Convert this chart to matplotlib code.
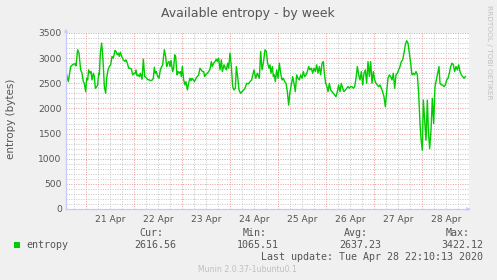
import numpy as np
import matplotlib
matplotlib.use("Agg")
import matplotlib.pyplot as plt

# hours since 2020-04-20 00:00, and available entropy (bytes)
hours = [14.33, 15.17, 16.33, 17.67, 18.5, 19, 19.83, 20.5, 21.33, 22, 22.67, 23.17, 23.83,
         24.33, 24.83, 25.33, 26, 26.5, 27, 27.67, 28.17, 28.67, 29.33, 29.83, 30.33, 30.67,
         31.17, 31.83, 32.5, 33.17, 33.83, 34.33, 35, 35.67, 36.33, 37, 37.67, 38.5, 39,
         39.67, 40.17, 40.67, 41.17, 41.83, 42.67, 43.5, 44, 44.67, 45.33, 46, 46.67, 47.33,
         48, 48.5, 49, 49.5, 50.17, 50.67, 51.17, 52, 52.67, 53.33, 54, 54.67, 55.5, 56.33,
         57.17, 57.67, 58.17, 58.67, 59.17, 59.83, 60.5, 61.17, 61.83, 62.33, 63.17, 63.83,
         64.33, 64.83, 65.5, 66, 66.5, 67.33, 67.83, 68.33, 68.83, 69.5, 70, 70.67, 71.17,
         71.67, 72.17, 72.83, 73.5, 74, 74.67, 75.5, 76, 76.5, 77, 77.67, 78.17, 79, 79.67,
         80.33, 81, 81.67, 82.17, 82.83, 83.33, 83.83, 84.67, 85.33, 86, 86.67, 87.17, 87.83,
         88.5, 89.17, 89.67, 90.33, 91, 91.67, 92.17, 93, 93.67, 94.17, 94.83, 95.33, 96,
         96.67, 97.33, 98, 98.67, 99.17, 99.83, 100.5, 101.33, 102, 102.83, 103.5, 104.33,
         105.17, 106, 106.83, 108, 108.83, 109.67, 110.67, 111.33, 112, 112.67, 113.5, 114.17,
         114.83, 115.5, 116, 116.5, 117.17, 117.67, 118.17, 118.67, 119.33, 120, 120.67,
         121.33, 122, 122.67, 123.33, 124, 124.67, 125.33, 126, 126.67, 127.33, 128, 128.67,
         129.33, 130, 130.67, 131.33, 132, 132.67, 133.33, 134, 134.67, 135.33, 136, 136.67,
         137.33, 138, 138.67, 139.33, 140, 140.67, 141.33, 142, 142.67, 143.17, 143.83, 144.5,
         145, 145.67, 146.33, 147, 147.67, 148.33, 149, 149.67, 150.33, 151, 151.67, 152.33,
         153, 153.67, 154.33, 155, 155.67, 156.33, 157, 157.67, 158.33, 159, 159.67, 160.33,
         161, 161.67, 162.33, 163, 163.67, 164.33, 165, 165.67, 166.33, 167, 167.67, 168.33,
         169, 169.67, 170.33, 171, 171.67, 172.33, 173, 173.67, 174.33, 175, 175.67, 176.33,
         177, 177.67, 178.33, 179, 179.67, 180.33, 181, 181.67, 182.33, 183, 183.67, 184.33,
         185, 185.67, 186.33, 187, 187.67, 188.33, 189, 189.67, 190.33, 191, 191.5, 192.17,
         192.67, 193.33, 194, 194.67, 195.17, 195.83, 196.5, 197.17, 197.83, 198.5, 199.17,
         199.83, 200.5, 201, 201.67, 202.33, 203, 203.67, 204.33, 205, 205.67, 206.33, 207,
         207.67, 208.33, 209, 209.67, 210.33, 211, 211.67, 212.33, 213, 213.67]
entropy = [2667, 2533, 2833, 2880, 2887, 2847, 3167, 3100, 2767, 2700, 2533, 2500, 2333,
           2600, 2567, 2767, 2700, 2733, 2567, 2700, 2633, 2400, 2433, 2467, 2700, 2667,
           3100, 3300, 2967, 2433, 2300, 2600, 2767, 2833, 2867, 3033, 3000, 3153, 3133,
           3067, 3100, 3033, 3120, 3033, 2967, 2933, 2967, 2900, 2800, 2800, 2787, 2667,
           2700, 2687, 2767, 2647, 2667, 2633, 2700, 2580, 2980, 2633, 2620, 2580, 2567, 2553,
           2567, 2600, 2820, 2700, 2733, 2633, 2600, 2767, 2833, 2867, 3167, 3033,
           2833, 2900, 2933, 2833, 2953, 2733, 2800, 3067, 3033, 2667, 2733, 2700, 2733,
           2633, 2833, 2567, 2467, 2533, 2367, 2533, 2600, 2553, 2600, 2567, 2533, 2600, 2633,
           2667, 2800, 2767, 2733, 2733, 2633, 2667, 2700, 2733, 2780, 2933, 2833, 2900,
           2933, 2980, 2933, 3000, 2767, 2967, 2733, 2867, 2800, 2767, 2900, 2800, 3100,
           2833, 2433, 2367, 2400, 2833, 2633, 2367, 2300, 2333, 2367, 2400, 2500,
           2487, 2533, 2567, 2767, 2600, 2700, 2600, 3133, 2767, 2900, 3167, 3133,
           2900, 2800, 2867, 2700, 2833, 2633, 2667, 2533, 2767, 2600, 2900,
           2700, 2567, 2600, 2533, 2500, 2333, 2067, 2333, 2467, 2633, 2500, 2333,
           2667, 2600, 2567, 2667, 2600, 2733, 2633, 2667, 2733, 2833, 2767, 2800,
           2700, 2800, 2733, 2867, 2700, 2833, 2667, 2900, 2933, 2700, 2500, 2433,
           2333, 2500, 2367, 2333, 2300, 2267, 2233, 2333, 2467, 2333, 2500, 2400,
           2333, 2367, 2400, 2433, 2400, 2433, 2433, 2400, 2433, 2600, 2833, 2667,
           2567, 2733, 2467, 2700, 2767, 2500, 2933, 2633, 2933, 2500, 2733, 2567,
           2500, 2467, 2433, 2467, 2400, 2333, 2233, 2033, 2333, 2600, 2667, 2633,
           2567, 2700, 2400, 2667, 2700, 2767, 2833, 2933, 2967, 3100, 3267, 3347,
           3300, 3100, 2900, 2667, 2700, 2667, 2733, 2667, 2300, 1700, 1400, 1167,
           2167, 1767, 1367, 2167, 1567, 1200, 1567, 2200, 1700, 2433, 2567,
           2700, 2833, 2500, 2467, 2467, 2433, 2467, 2567, 2600, 2700, 2833, 2900,
           2867, 2733, 2833, 2767, 2867, 2733, 2667, 2633, 2600, 2633]

day_labels = ["21 Apr", "22 Apr", "23 Apr", "24 Apr", "25 Apr", "26 Apr", "27 Apr", "28 Apr"]
stat_names = ["Cur:", "Min:", "Avg:", "Max:"]
stat_values = ["2616.56", "1065.51", "2637.23", "3422.12"]

W, H = 497, 280
fig = plt.figure(figsize=(W / 100, H / 100), dpi=100, facecolor="#f0f0f0")
ax = fig.add_axes([66 / W, (H - 209) / H, (469 - 66) / W, (209 - 33) / H])
ax.set_facecolor("white")

txt = "#555555"
ax.set_xlim(14, 215.5)
ax.set_ylim(0, 3500)

# grid: minor gray dotted, major red dotted
dots = (0, (1, 1.5))
for y in np.arange(100, 3501, 100):
    if y % 500 == 0:
        continue
    ax.axhline(y, color="#c4c4c4", lw=0.7, ls=dots, zorder=1)
for x in np.arange(18, 215.5, 6):
    if x % 24 == 0:
        continue
    ax.axvline(x, color="#c4c4c4", lw=0.7, ls=dots, zorder=1)
for y in np.arange(500, 3501, 500):
    ax.axhline(y, color="#eb9a9a", lw=0.7, ls=dots, zorder=2, clip_on=False)
for x in np.arange(24, 215, 24):
    ax.axvline(x, color="#eb9a9a", lw=0.7, ls=dots, zorder=2)

ax.plot(hours, entropy, color="#00cc00", lw=1.0, zorder=3)

for s in ax.spines.values():
    s.set_visible(False)
ax.axhline(0, color="#c8c8ff", lw=0.9, zorder=4, clip_on=False)
ax.axvline(14, color="#c8c8ff", lw=0.9, zorder=4, clip_on=False)
ax.annotate("", xy=(217.5, 0), xytext=(214, 0), annotation_clip=False,
            arrowprops=dict(arrowstyle="-|>", color="#c8c8ff", lw=0.1, mutation_scale=7))
ax.annotate("", xy=(14, 3640), xytext=(14, 3420), annotation_clip=False,
            arrowprops=dict(arrowstyle="-|>", color="#c8c8ff", lw=0.1, mutation_scale=7))

ax.set_yticks(np.arange(0, 3501, 500))
ax.set_yticklabels([str(v) for v in range(0, 3501, 500)])
ax.set_xticks(np.arange(36, 215, 24))
ax.set_xticklabels(day_labels)
ax.tick_params(axis="both", length=0, labelsize=6.6, colors=txt, pad=3)
ax.tick_params(axis="x", pad=4)

fig.text(247.5 / W, 1 - 13.5 / H, "Available entropy - by week", ha="center", va="center",
         fontsize=9, color=txt)
fig.text(11 / W, 1 - 119 / H, "entropy (bytes)", rotation=90, ha="center", va="center",
         fontsize=7.5, color=txt)
fig.text(489 / W, 1 - 5 / H, "RRDTOOL / TOBI OETIKER", rotation=270, ha="center", va="top",
         fontsize=5.3, color="#c0c0c0")

mono = "DejaVu Sans Mono"
fig.patches.append(plt.Rectangle((14 / W, 1 - 248 / H), 6 / W, 6 / H, transform=fig.transFigure,
                                 facecolor="#00cc00", edgecolor="none"))
fig.text(26 / W, 1 - 244.5 / H, "entropy", family=mono, fontsize=7.2, color=txt,
         ha="left", va="center")
name_right = [163, 267, 368, 470]
val_right = [176, 279, 381, 483]
for nm, vl, nx, vx in zip(stat_names, stat_values, name_right, val_right):
    fig.text(nx / W, 1 - 233 / H, nm, family=mono, fontsize=7.2, color=txt,
             ha="right", va="center")
    fig.text(vx / W, 1 - 244.5 / H, vl, family=mono, fontsize=7.2, color=txt,
             ha="right", va="center")
fig.text(483 / W, 1 - 256.5 / H, "Last update: Tue Apr 28 22:10:13 2020", family=mono,
         fontsize=7.2, color=txt, ha="right", va="center")
fig.text(248 / W, 1 - 269 / H, "Munin 2.0.37-1ubuntu0.1", fontsize=5.6, color="#c0c0c0",
         ha="center", va="center")

fig.savefig("out.png", dpi=100, facecolor=fig.get_facecolor())
